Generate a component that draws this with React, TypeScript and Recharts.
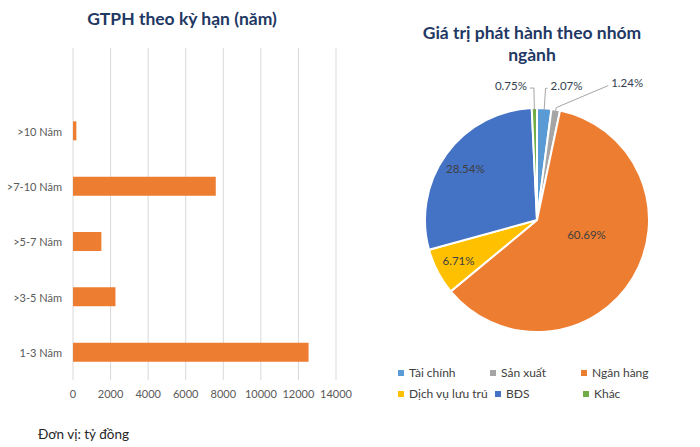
import React from "react";
import {
  Bar,
  BarChart,
  CartesianGrid,
  Cell,
  Legend,
  Pie,
  PieChart,
  XAxis,
  YAxis,
} from "recharts";

// Left chart: issuance value by term (tỷ đồng). Top row is an empty category in the source.
const TERM_LABELS = ["", ">10 Năm", ">7-10 Năm", ">5-7 Năm", ">3-5 Năm", "1-3 Năm"];
const TERM_VALUES = [null, 180, 7600, 1510, 2260, 12540];
const X_TICKS = [0, 2000, 4000, 6000, 8000, 10000, 12000, 14000];

// Right chart: share by sector (%)
const SECTOR_NAMES = ["Tài chính", "Sản xuất", "Ngân hàng", "Dịch vụ lưu trú", "BĐS", "Khác"];
const SECTOR_SHARES = [2.07, 1.24, 60.69, 6.71, 28.54, 0.75];
const SECTOR_COLORS = ["#5B9BD5", "#A5A5A5", "#ED7D31", "#FFC000", "#4472C4", "#70AD47"];

const FONT = "Lato, 'Open Sans', sans-serif";
const NAVY = "#1F3864";

const termData = TERM_LABELS.map((label, i) => ({ label, value: TERM_VALUES[i] }));
const sectorData = SECTOR_NAMES.map((name, i) => ({ name, value: SECTOR_SHARES[i] }));

// label placement per slice: inside at a radius fraction, or outside with a leader line
const LABEL_LAYOUT = [
  { out: true, anchor: "start", len: 20, dx: 2, dy: 0 },
  { out: true, anchor: "start", len: 2, dx: 52, dy: -22 },
  { out: false, r: 0.46, da: 15 },
  { out: false, r: 0.79, da: 0 },
  { out: false, r: 0.79, da: 0 },
  { out: true, anchor: "end", len: 20, dx: -4, dy: 0 },
];

// legend rows, with the width each entry takes
const LEGEND_ROWS = [
  [0, 1, 2],
  [3, 4, 5],
];
const LEGEND_WIDTHS = [[92, 91, 110], [97, 88, 110]];

const RAD = Math.PI / 180;

function SliceLabel(props: any) {
  const { cx, cy, midAngle, outerRadius, index, value } = props;
  const cfg: any = LABEL_LAYOUT[index];
  const text = `${value.toFixed(2)}%`;
  if (!cfg.out) {
    const a = (midAngle + cfg.da) * RAD;
    const r = outerRadius * cfg.r;
    return (
      <text
        x={cx + r * Math.cos(-a)}
        y={cy + r * Math.sin(-a)}
        textAnchor="middle"
        dominantBaseline="central"
        fill="#404040"
        fontSize={11.5}
        fontFamily={FONT}
      >
        {text}
      </text>
    );
  }
  const a = midAngle * RAD;
  const x0 = cx + (outerRadius - 2) * Math.cos(-a);
  const y0 = cy + (outerRadius - 2) * Math.sin(-a);
  const x1 = cx + (outerRadius + cfg.len) * Math.cos(-a);
  const y1 = cy + (outerRadius + cfg.len) * Math.sin(-a);
  const x2 = x1 + cfg.dx;
  const y2 = y1 + cfg.dy;
  const tx = cfg.anchor === "start" ? x2 + 3 : x2 - 3;
  return (
    <g>
      <polyline
        points={`${x0},${y0} ${x1},${y1} ${x2},${y2}`}
        fill="none"
        stroke="#A6A6A6"
        strokeWidth={1}
      />
      <text
        x={tx}
        y={y2 - 3}
        textAnchor={cfg.anchor}
        dominantBaseline="central"
        fill="#333F50"
        fontSize={11.5}
        fontFamily={FONT}
      >
        {text}
      </text>
    </g>
  );
}

function TermTick(props: any) {
  const { x, y, payload } = props;
  return (
    <text
      x={x}
      y={y}
      textAnchor="end"
      dominantBaseline="central"
      fill="#595959"
      fontSize={11}
      fontFamily={FONT}
    >
      {payload.value}
    </text>
  );
}

function SectorLegend() {
  return (
    <div style={{ fontFamily: FONT, fontSize: 12, color: "#404040" }}>
      {LEGEND_ROWS.map((row, r) => (
        <div key={r} style={{ display: "flex", height: 21, alignItems: "center" }}>
          {row.map((i, c) => (
            <div
              key={SECTOR_NAMES[i]}
              style={{
                width: LEGEND_WIDTHS[r][c],
                display: "flex",
                alignItems: "center",
                whiteSpace: "nowrap",
              }}
            >
              <span
                style={{
                  display: "inline-block",
                  width: 6,
                  height: 6,
                  background: SECTOR_COLORS[i],
                  marginRight: 5,
                  flexShrink: 0,
                }}
              />
              {SECTOR_NAMES[i]}
            </div>
          ))}
        </div>
      ))}
    </div>
  );
}

export default function App() {
  return (
    <div
      style={{
        position: "absolute",
        left: 0,
        top: 0,
        width: 700,
        height: 447,
        background: "#fff",
        fontFamily: FONT,
        overflow: "hidden",
      }}
    >
      <div
        style={{
          position: "absolute",
          left: 82,
          width: 200,
          top: 8,
          textAlign: "center",
          fontWeight: 700,
          fontSize: 17.5,
          color: NAVY,
          whiteSpace: "nowrap",
        }}
      >
        GTPH theo kỳ hạn (năm)
      </div>

      <div style={{ position: "absolute", left: 0, top: 0 }}>
        <BarChart
          width={360}
          height={447}
          layout="vertical"
          data={termData}
          margin={{ top: 48, right: 24, bottom: 47, left: 0 }}
        >
          <CartesianGrid horizontal={false} stroke="#D9D9D9" />
          <XAxis
            type="number"
            domain={[0, 14000]}
            ticks={X_TICKS}
            axisLine={false}
            tickLine={false}
            tickSize={0}
            tickMargin={10}
            height={20}
            interval={0}
            tick={{ fill: "#595959", fontSize: 11, fontFamily: FONT }}
          />
          <YAxis
            type="category"
            dataKey="label"
            width={73}
            axisLine={false}
            tickLine={false}
            tickSize={0}
            tickMargin={11}
            interval={0}
            tick={<TermTick />}
          />
          <Bar dataKey="value" fill="#ED7D31" barSize={19} isAnimationActive={false} />
        </BarChart>
      </div>

      <div
        style={{
          position: "absolute",
          left: 38,
          top: 426,
          fontSize: 13.5,
          color: "#262626",
        }}
      >
        Đơn vị: tỷ đồng
      </div>

      <div
        style={{
          position: "absolute",
          left: 407,
          width: 250,
          top: 22,
          textAlign: "center",
          fontWeight: 700,
          fontSize: 17.5,
          lineHeight: "22px",
          color: NAVY,
        }}
      >
        Giá trị phát hành theo nhóm ngành
      </div>

      <div style={{ position: "absolute", left: 380, top: 0 }}>
        <PieChart width={320} height={447}>
          <Pie
            data={sectorData}
            dataKey="value"
            nameKey="name"
            cx={152}
            cy={215}
            outerRadius={112}
            startAngle={90}
            endAngle={-270}
            stroke="#fff"
            strokeWidth={2}
            label={SliceLabel}
            labelLine={false}
            isAnimationActive={false}
          >
            {sectorData.map((d, i) => (
              <Cell key={d.name} fill={SECTOR_COLORS[i]} />
            ))}
          </Pie>
          <Legend
            content={() => <SectorLegend />}
            wrapperStyle={{ position: "absolute", left: 18, top: 362, width: 300 }}
          />
        </PieChart>
      </div>
    </div>
  );
}
